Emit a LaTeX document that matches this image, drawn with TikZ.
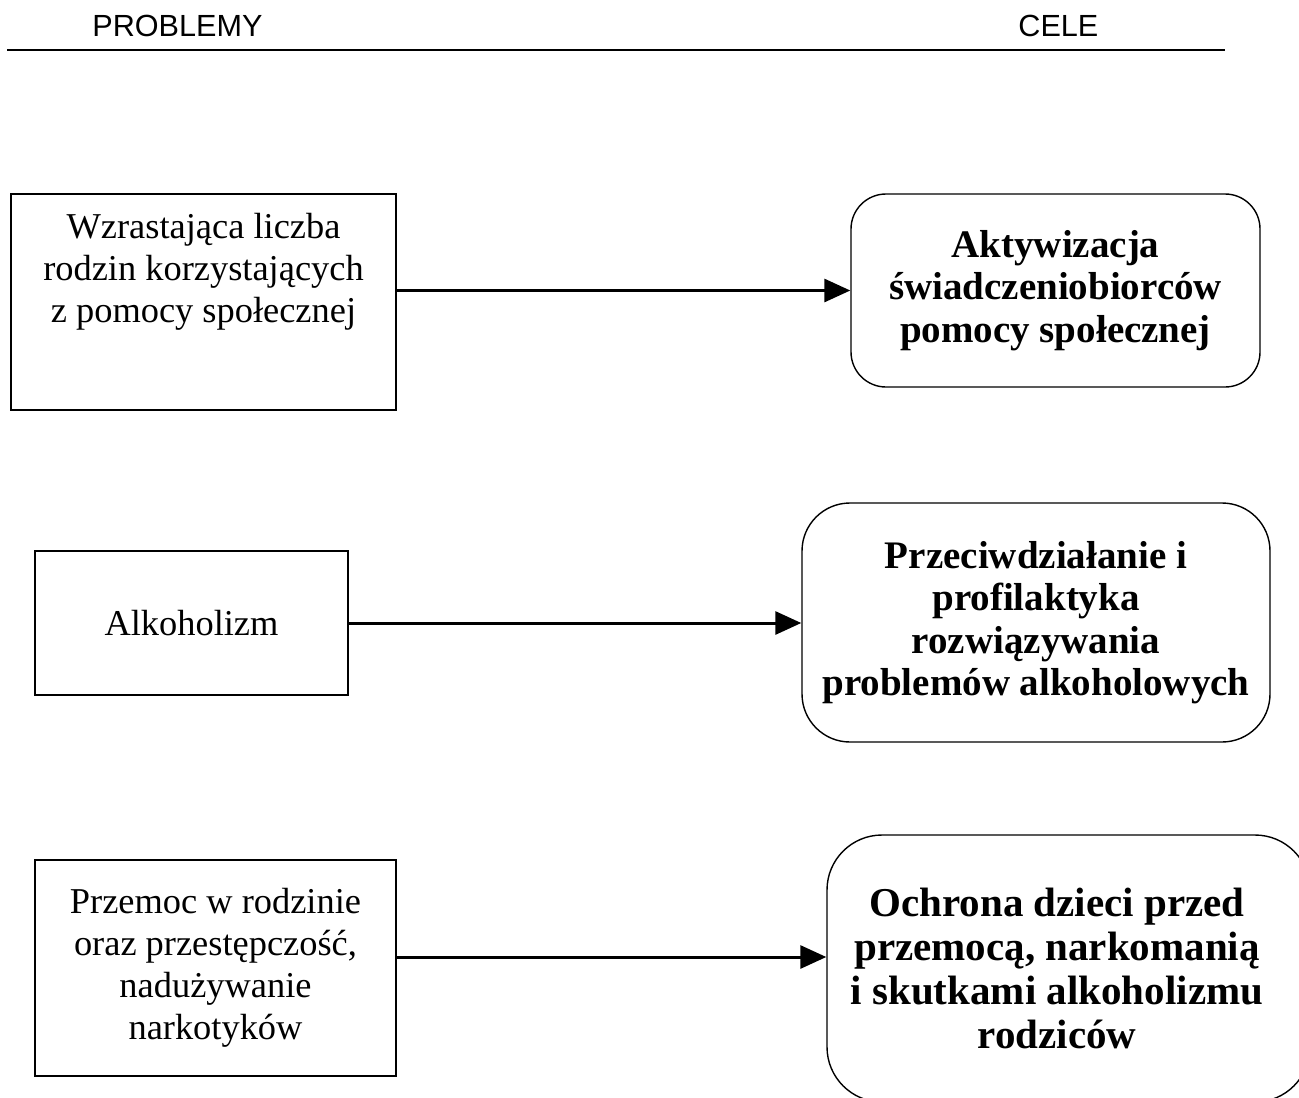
\documentclass[tikz,border=0pt]{standalone}
\usepackage{fontspec}
\setmainfont{Liberation Serif}
\newfontfamily\headfont{Liberation Sans}
\usetikzlibrary{arrows.meta}

\begin{document}
\begin{tikzpicture}[x=0.5pt,y=-0.5pt,->,>={Triangle[length=13pt,width=11.5pt]},
		head/.style={anchor=base west,inner sep=0pt,font=\headfont\fontsize{15.3}{18}\selectfont},
		prob/.style={draw,line width=0.75pt,align=center,inner sep=0pt,font=\fontsize{18.2}{21}\selectfont},
		cel/.style={draw,line width=0.7pt,rounded corners=#1,align=center,inner sep=0pt,font=\bfseries\fontsize{19.5}{21.25}\selectfont},
		conn/.style={line width=1.5pt}]
		\useasboundingbox (0,0) rectangle (1299,1097);
		\node (hprob) [head] at (92,37) {PROBLEMY};
		\node (hcel) [head] at (1018,37) {CELE};
		\draw[-,line width=1pt] (7,50) -- (1225,50);
		\node (prob1) [prob,minimum width=192.5pt,minimum height=108pt] at (203.5,302) {Wzrastająca liczba\\rodzin korzystających\\z pomocy społecznej\\[13pt]~};
		\node (prob2) [prob,minimum width=156.5pt,minimum height=72pt] at (191.5,623) {Alkoholizm};
		\node (prob3) [prob,minimum width=180.5pt,minimum height=108pt] at (215.5,968) {Przemoc w rodzinie\\oraz przestępczość,\\nadużywanie\\narkotyków};
		\node (goal1) [cel=17.5pt,minimum width=204.5pt,minimum height=96.5pt] at (1055.5,290.5) {Aktywizacja\\świadczeniobiorców\\pomocy społecznej};
		\node (goal2) [cel=24pt,minimum width=234pt,minimum height=119.5pt] at (1036,622.5) {Przeciwdziałanie i\\profilaktyka\\rozwiązywania\\problemów alkoholowych};
		\node (goal3) [cel=27.5pt,minimum width=241.5pt,minimum height=133.5pt] at (1068.5,968.5) {};
		\node (goal3txt) [align=center,font=\bfseries\fontsize{20.5}{22}\selectfont] at ([xshift=-5.75pt]goal3.center) {Ochrona dzieci przed\\przemocą, narkomanią\\i skutkami alkoholizmu\\rodziców};
		\draw[conn] (prob1.east |- goal1.west) -- (goal1.west);
		\draw[conn] (prob2.east) -- (prob2.east -| goal2.west);
		\draw[conn] ([yshift=5.5pt]prob3.east) -- ([yshift=5.5pt]prob3.east -| goal3.west);
\end{tikzpicture}
\end{document}
